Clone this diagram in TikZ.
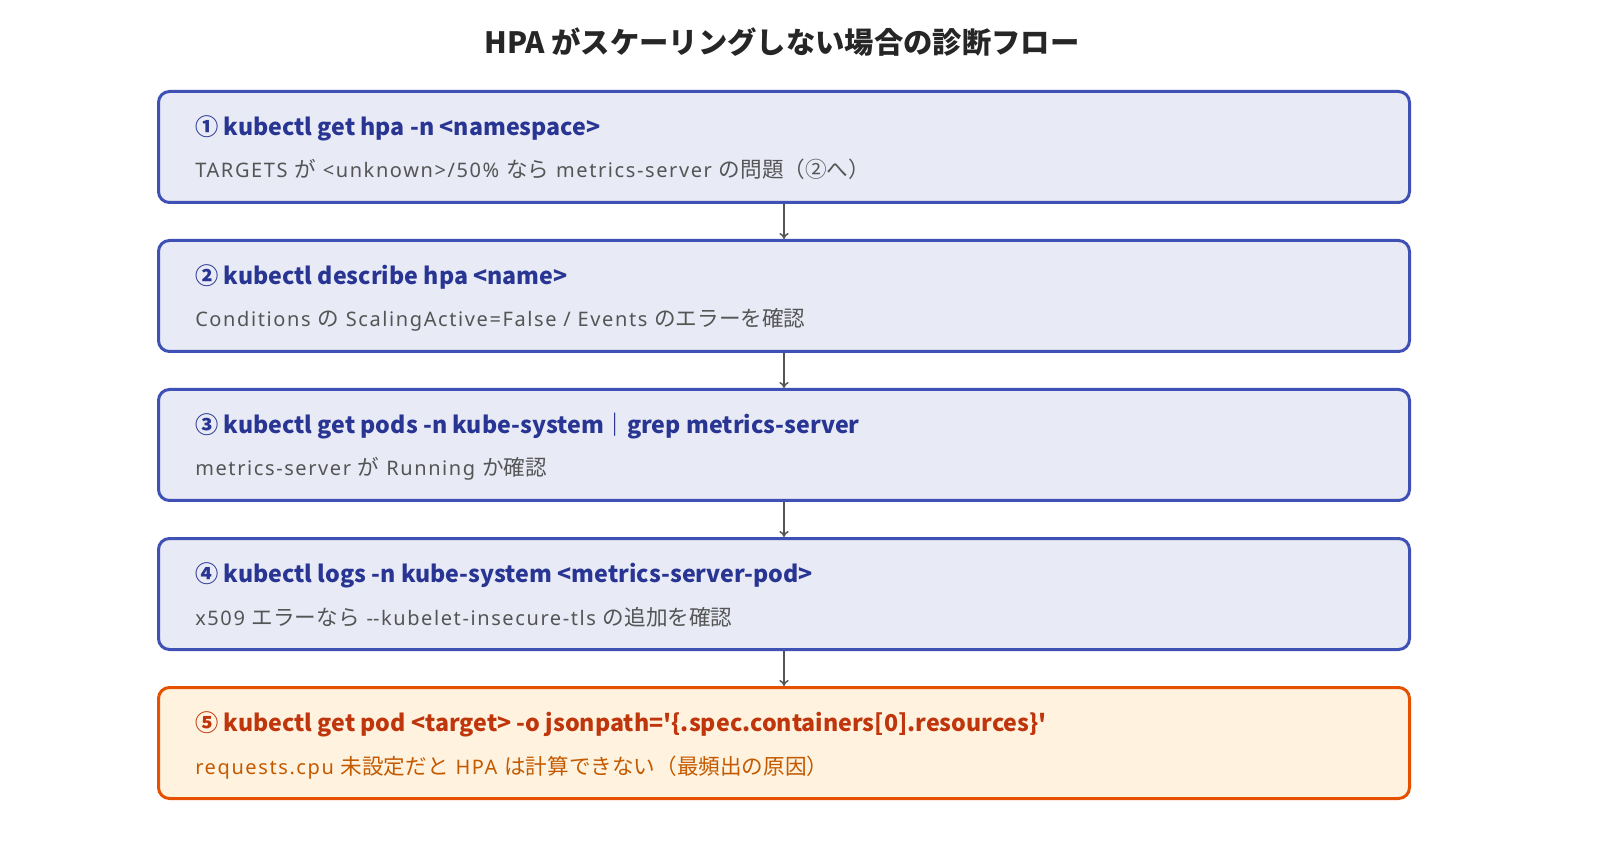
\documentclass[tikz,border=0pt]{standalone}
\usepackage{fontspec}
\setmainfont{Noto Sans}[LetterSpace=8]
\newfontfamily\jp{Noto Sans CJK JP}
\newcommand{\ja}[1]{{\jp\fontsize{16.2}{18}\selectfont #1}}
\usepackage{tikz}
\usetikzlibrary{arrows.meta}
\usetikzlibrary{positioning}
\definecolor{stepfill}{HTML}{E8EAF6}
\definecolor{stepline}{HTML}{3F51B5}
\definecolor{stephead}{HTML}{283593}
\definecolor{keyfill}{HTML}{FFF3E0}
\definecolor{keyline}{HTML}{E65100}
\definecolor{keyhead}{HTML}{BF360C}
\definecolor{keytext}{HTML}{C45A00}
\definecolor{subgray}{HTML}{555555}
\tikzset{
    stepbox/.style={draw=stepline, fill=stepfill, line width=2.25pt, rounded corners=8.25pt,
        minimum width=938.25pt, minimum height=83.25pt, inner sep=0},
    keybox/.style={stepbox, draw=keyline, fill=keyfill},
    head/.style={anchor=base west, inner sep=0, text=stephead, font=\jp\fontsize{17.4}{20}\selectfont\bfseries},
    sub/.style={anchor=base west, inner sep=0, text=subgray, font=\fontsize{15}{18}\selectfont},
    flow/.style={-{To[length=4.5pt,width=7pt]}, draw=subgray, line width=1.1pt}
}

\begin{document}
\begin{tikzpicture}[x=0.75pt, y=0.75pt]
  \useasboundingbox[fill=white] (0,0) rectangle (1600,-848);
  \node[font=\jp\fontsize{22}{26}\selectfont\bfseries, text=black!85] (title) at (782,-42) {HPA がスケーリングしない場合の診断フロー};

  \node[stepbox] (box1) at (784,-147) {};
  \node[stepbox] (box2) at (784,-296) {};
  \node[stepbox] (box3) at (784,-445) {};
  \node[stepbox] (box4) at (784,-594) {};
  \node[keybox]  (box5) at (784,-743) {};

  \node[head] (head1) at ([shift={(38,-45.5)}]box1.north west) {① kubectl get hpa -n <namespace>};
  \node[sub]  (sub1)  at ([shift={(38,-88)}]box1.north west) {TARGETS \ja{が} <unknown>/50\% \ja{なら} metrics-server \ja{の問題（②へ）}};
  \node[head] (head2) at ([shift={(38,-45.5)}]box2.north west) {② kubectl describe hpa <name>};
  \node[sub]  (sub2)  at ([shift={(38,-88)}]box2.north west) {Conditions \ja{の} ScalingActive=False / Events \ja{のエラーを確認}};
  \node[head] (head3) at ([shift={(38,-45.5)}]box3.north west) {③ kubectl get pods -n kube-system｜grep metrics-server};
  \node[sub]  (sub3)  at ([shift={(38,-88)}]box3.north west) {metrics-server \ja{が} Running \ja{か確認}};
  \node[head] (head4) at ([shift={(38,-45.5)}]box4.north west) {④ kubectl logs -n kube-system <metrics-server-pod>};
  \node[sub]  (sub4)  at ([shift={(38,-88)}]box4.north west) {x509 \ja{エラーなら} -\kern0pt-kubelet-insecure-tls \ja{の追加を確認}};
  \node[head, text=keyhead] (head5) at ([shift={(38,-45.5)}]box5.north west) {⑤ kubectl get pod <target> -o jsonpath=\textquotesingle\{.spec.containers[0].resources\}\textquotesingle};
  \node[sub, text=keytext]  (sub5)  at ([shift={(38,-88)}]box5.north west) {requests.cpu \ja{未設定だと} HPA \ja{は計算できない（最頻出の原因）}};

  \draw[flow] (box1.south) -- (box2.north);
  \draw[flow] (box2.south) -- (box3.north);
  \draw[flow] (box3.south) -- (box4.north);
  \draw[flow] (box4.south) -- (box5.north);
\end{tikzpicture}
\end{document}
